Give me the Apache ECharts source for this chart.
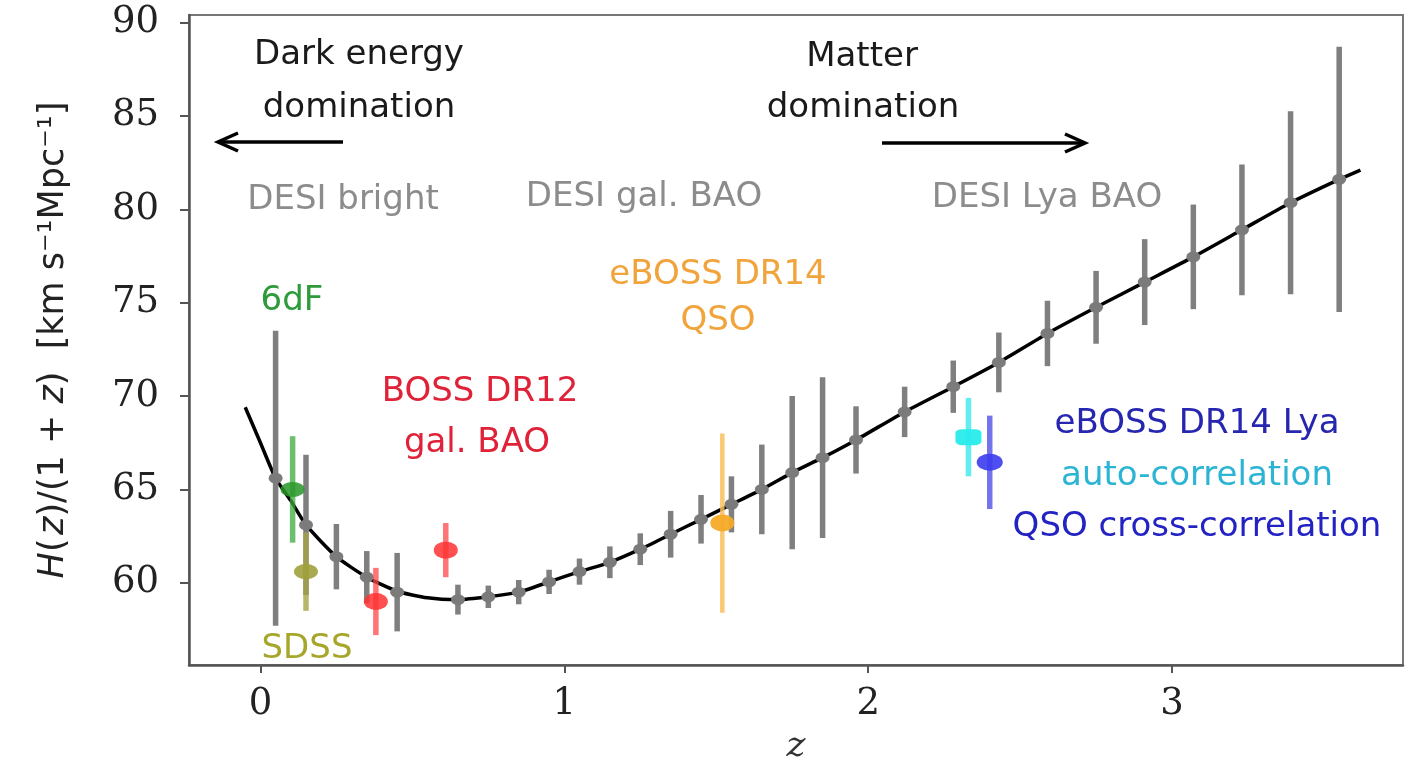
<!DOCTYPE html>
<html>
<head>
<meta charset="utf-8">
<title>H(z)/(1+z)</title>
<script src="https://cdn.jsdelivr.net/npm/echarts@6/dist/echarts.min.js"></script>
<style>
  html, body { margin: 0; padding: 0; background: #fff; }
  #chart { width: 1411px; height: 761px; }
</style>
</head>
<body>
<div id="chart"></div>
<script>
// tick labels
const zTicks = [0, 1, 2, 3];
const hTicks = [60, 65, 70, 75, 80, 85, 90];

// model curve
const curveZ = [-0.05, 0.0, 0.05, 0.10, 0.15, 0.25, 0.35, 0.45, 0.55, 0.65, 0.75, 0.85, 0.95, 1.05, 1.15, 1.25, 1.35, 1.45, 1.55, 1.65, 1.75, 1.85, 1.96, 2.12, 2.28, 2.43, 2.59, 2.75, 2.91, 3.07, 3.23, 3.39, 3.55, 3.62];
const curveH = [69.4, 67.5, 65.6, 64.4, 63.1, 61.4, 60.3, 59.55, 59.2, 59.1, 59.25, 59.5, 60.05, 60.6, 61.1, 61.8, 62.6, 63.4, 64.2, 65.0, 65.9, 66.7, 67.65, 69.15, 70.5, 71.8, 73.35, 74.75, 76.1, 77.45, 78.9, 80.35, 81.6, 82.1];

// DESI forecast (grey)
const desiZ = [0.05, 0.15, 0.25, 0.35, 0.45, 0.65, 0.75, 0.85, 0.95, 1.05, 1.15, 1.25, 1.35, 1.45, 1.55, 1.65, 1.75, 1.85, 1.96, 2.12, 2.28, 2.43, 2.59, 2.75, 2.91, 3.07, 3.23, 3.39, 3.55];
const desiH = [65.6, 63.1, 61.4, 60.3, 59.5, 59.1, 59.25, 59.5, 60.05, 60.6, 61.1, 61.8, 62.6, 63.4, 64.2, 65.0, 65.9, 66.7, 67.65, 69.15, 70.5, 71.8, 73.35, 74.75, 76.1, 77.45, 78.9, 80.35, 81.6];
const desiErr = [7.9, 3.75, 1.75, 1.4, 2.1, 0.8, 0.6, 0.65, 0.65, 0.7, 0.85, 0.85, 1.25, 1.3, 1.5, 2.4, 4.1, 4.3, 1.8, 1.35, 1.4, 1.6, 1.75, 1.95, 2.3, 2.8, 3.5, 4.9, 7.1];

// measurements
const sixdfZ = [0.106], sixdfH = [65.0], sixdfErr = [2.85];
const sdssZ = [0.15], sdssH = [60.6], sdssErr = [2.1];
const bossZ = [0.38, 0.61], bossH = [59.0, 61.75], bossErr = [1.8, 1.45];
const qsoZ = [1.52], qsoH = [63.2], qsoErr = [4.8];
const lyaAutoZ = [2.33], lyaAutoH = [67.8], lyaAutoErr = [2.1];
const lyaCrossZ = [2.40], lyaCrossH = [66.45], lyaCrossErr = [2.5];

function pairs(xs, ys) { return xs.map((x, i) => [x, ys[i]]); }
function triples(xs, ys, es) { return xs.map((x, i) => [x, ys[i], es[i]]); }

function errBars(name, zs, hs, es, color, width, zl) {
  return {
    name: name + ' err', type: 'custom', z: zl, silent: true,
    data: triples(zs, hs, es),
    encode: { x: 0, y: 1 },
    renderItem: function (params, api) {
      const z = api.value(0), h = api.value(1), e = api.value(2);
      const a = api.coord([z, h + e]), b = api.coord([z, h - e]);
      return { type: 'line', shape: { x1: a[0], y1: a[1], x2: b[0], y2: b[1] },
               style: { stroke: color, lineWidth: width } };
    }
  };
}
function marks(name, zs, hs, color, size, symbol, zl) {
  return {
    name: name, type: 'scatter', z: zl, silent: true,
    symbol: symbol || 'circle', symbolSize: size,
    itemStyle: { color: color, opacity: 1 },
    data: pairs(zs, hs)
  };
}

const sans = 'DejaVu Sans';
function note(text, x, y, color) {
  return { type: 'text', x: x, y: y, z: 20,
    style: { text: text, fill: color, font: '34px "' + sans + '"', textAlign: 'center', textVerticalAlign: 'middle' } };
}
function arrow(x1, x2, y, dir) {
  const back = x2 - dir * 20;
  return [
    { type: 'line', z: 20, shape: { x1: x1, y1: y, x2: x2, y2: y }, style: { stroke: '#000', lineWidth: 3.5 } },
    { type: 'polyline', z: 20, shape: { points: [[back, y - 9], [x2, y], [back, y + 9]] },
      style: { stroke: '#000', lineWidth: 3.5, fill: null } }
  ];
}

const chart = echarts.init(document.getElementById('chart'), null, { renderer: 'canvas' });
chart.setOption({
  backgroundColor: '#fff',
  animation: false,
  grid: { left: 189, right: 8, top: 15, bottom: 96, outerBoundsMode: 'none', containLabel: false,
          show: true, borderColor: '#777', borderWidth: 2 },
  xAxis: {
    type: 'value', min: -0.235, max: 3.76,
    name: 'z', nameLocation: 'middle', nameGap: 64,
    nameTextStyle: { fontFamily: 'DejaVu Serif', fontStyle: 'italic', fontSize: 36, color: '#333' },
    axisLine: { show: true, onZero: false, lineStyle: { color: '#555', width: 2.5 } },
    axisTick: { show: true, length: 8, customValues: zTicks, lineStyle: { color: '#555', width: 2 } },
    axisLabel: { customValues: zTicks, margin: 21, fontFamily: 'DejaVu Serif', fontSize: 37, color: '#222' },
    splitLine: { show: false }
  },
  yAxis: {
    type: 'value', min: 55.6, max: 90.4,
    name: '{it|H}(\u200a{it|z})/(1 + {it|z})  [km s\u207B\u00B9Mpc\u207B\u00B9]',
    nameLocation: 'middle', nameGap: 118, nameRotate: 90,
    nameTextStyle: { fontFamily: sans, fontSize: 35, color: '#222',
      rich: { it: { fontFamily: sans, fontStyle: 'italic', fontSize: 35, color: '#222' } } },
    axisLine: { show: true, onZero: false, lineStyle: { color: '#555', width: 2.5 } },
    axisTick: { show: true, length: 9, customValues: hTicks, lineStyle: { color: '#555', width: 2 } },
    axisLabel: { customValues: hTicks, margin: 30, fontFamily: 'DejaVu Serif', fontSize: 37, color: '#222' },
    splitLine: { show: false }
  },
  series: [
    { name: 'model', type: 'line', z: 2, silent: true, smooth: 0.2, showSymbol: false,
      lineStyle: { color: '#000', width: 3.5 }, data: pairs(curveZ, curveH) },
    errBars('DESI', desiZ, desiH, desiErr, '#7f7f7f', 5.5, 3),
    marks('DESI', desiZ, desiH, '#7b7b7b', [14, 11], 'circle', 4),
    errBars('6dF', sixdfZ, sixdfH, sixdfErr, 'rgba(60,170,60,0.75)', 5.5, 5),
    marks('6dF', sixdfZ, sixdfH, 'rgba(40,150,40,0.85)', [24, 15], 'circle', 6),
    errBars('SDSS', sdssZ, sdssH, sdssErr, 'rgba(165,165,70,0.8)', 5.5, 5),
    marks('SDSS', sdssZ, sdssH, 'rgba(160,160,60,0.9)', [24, 15], 'circle', 6),
    errBars('BOSS', bossZ, bossH, bossErr, 'rgba(255,70,70,0.75)', 5.5, 5),
    marks('BOSS', bossZ, bossH, 'rgba(255,50,50,0.85)', [24, 17], 'circle', 6),
    errBars('QSO', qsoZ, qsoH, qsoErr, 'rgba(250,190,90,0.85)', 4.5, 5),
    marks('QSO', qsoZ, qsoH, 'rgba(245,170,40,0.95)', [24, 17], 'circle', 6),
    errBars('Lya auto', lyaAutoZ, lyaAutoH, lyaAutoErr, 'rgba(70,235,235,0.85)', 5.5, 5),
    marks('Lya auto', lyaAutoZ, lyaAutoH, 'rgba(40,235,235,0.95)', [26, 16], 'roundRect', 6),
    errBars('Lya cross', lyaCrossZ, lyaCrossH, lyaCrossErr, 'rgba(80,80,230,0.8)', 5.5, 5),
    marks('Lya cross', lyaCrossZ, lyaCrossH, 'rgba(60,60,240,0.9)', [26, 17], 'circle', 6)
  ],
  graphic: [
    note('Dark energy', 359, 55, '#1a1a1a'),
    note('domination', 359, 108, '#1a1a1a'),
    note('Matter', 862, 57, '#1a1a1a'),
    note('domination', 863, 108, '#1a1a1a'),
    ...arrow(343, 218, 142, -1),
    ...arrow(882, 1085, 143, 1),
    note('DESI bright', 343, 200, '#8c8c8c'),
    note('DESI gal. BAO', 644, 197, '#8c8c8c'),
    note('DESI Lya BAO', 1047, 198, '#8c8c8c'),
    note('6dF', 292, 301, '#2e9b3a'),
    note('BOSS DR12', 480, 392, '#e02238'),
    note('gal. BAO', 477, 443, '#e02238'),
    note('SDSS', 307, 649, '#a6a62a'),
    note('eBOSS DR14', 718, 275, '#f2a43c'),
    note('QSO', 718, 321, '#f2a43c'),
    note('eBOSS DR14 Lya', 1197, 424, '#2626b0'),
    note('auto-correlation', 1197, 476, '#2cb4d4'),
    note('QSO cross-correlation', 1197, 527, '#2323c4')
  ]
});
</script>
</body>
</html>
